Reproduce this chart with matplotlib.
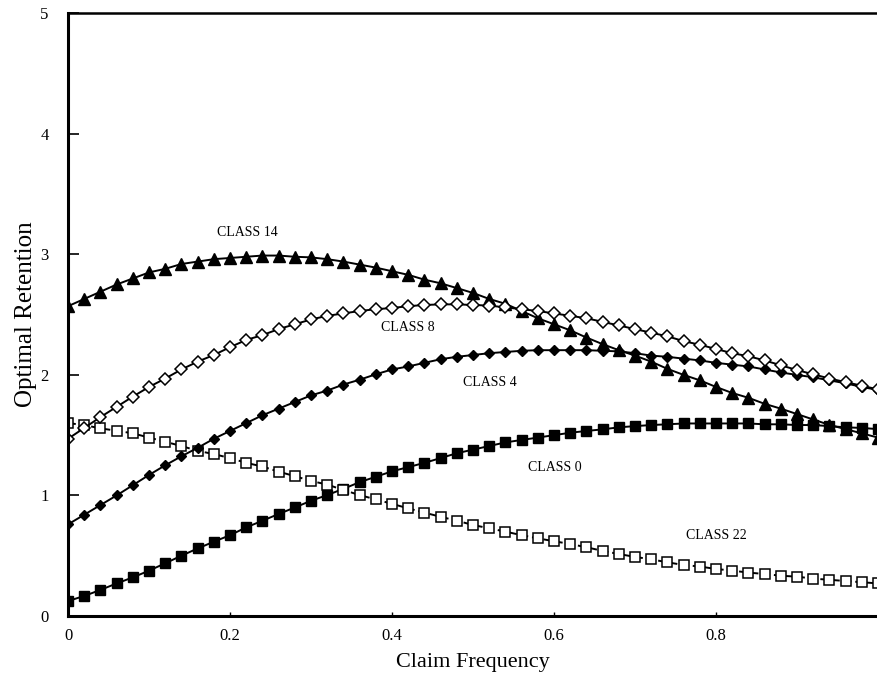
import numpy as np
import matplotlib
matplotlib.use("Agg")
from matplotlib import pyplot as plt

plt.rcParams['font.family'] = ['Liberation Serif', 'DejaVu Serif']

# claim frequency grid, 0 to 1 in steps of 0.02
freq = np.linspace(0.0, 1.0, 51)

class14 = [2.57, 2.63, 2.69, 2.75, 2.80, 2.85, 2.88, 2.92, 2.94, 2.96, 2.97, 2.98, 2.99, 2.99, 2.98, 2.975, 2.96,
           2.94, 2.915, 2.89, 2.86, 2.83, 2.79, 2.76, 2.72, 2.68, 2.63, 2.59, 2.53, 2.47, 2.42, 2.37, 2.31,
           2.255, 2.205, 2.16, 2.11, 2.05, 2.00, 1.955, 1.90, 1.85, 1.81, 1.76, 1.72, 1.675, 1.63, 1.585, 1.55, 1.515, 1.48]

class8 = [1.47, 1.56, 1.65, 1.735, 1.82, 1.90, 1.97, 2.045, 2.11, 2.165, 2.23, 2.29, 2.33, 2.38, 2.42, 2.46, 2.49,
          2.51, 2.53, 2.545, 2.555, 2.57, 2.58, 2.585, 2.585, 2.58, 2.575, 2.56, 2.545, 2.53, 2.51, 2.49, 2.47,
          2.44, 2.41, 2.38, 2.35, 2.32, 2.28, 2.25, 2.215, 2.18, 2.155, 2.12, 2.08, 2.04, 2.005, 1.97, 1.94, 1.91, 1.88]

class4 = [0.76, 0.84, 0.92, 1.00, 1.085, 1.17, 1.25, 1.325, 1.395, 1.47, 1.535, 1.60, 1.665, 1.72, 1.775, 1.83, 1.87,
          1.92, 1.96, 2.005, 2.045, 2.07, 2.10, 2.13, 2.15, 2.165, 2.18, 2.19, 2.20, 2.205, 2.205, 2.205, 2.205,
          2.20, 2.195, 2.18, 2.16, 2.15, 2.135, 2.12, 2.10, 2.085, 2.07, 2.045, 2.02, 2.00, 1.98, 1.955, 1.93, 1.90, 1.875]

class0 = [0.124, 0.166, 0.216, 0.27, 0.32, 0.376, 0.437, 0.50, 0.56, 0.616, 0.67, 0.735, 0.79, 0.846, 0.90, 0.956, 1.003,
          1.055, 1.11, 1.155, 1.20, 1.235, 1.27, 1.31, 1.35, 1.38, 1.41, 1.44, 1.46, 1.48, 1.50, 1.52, 1.535,
          1.548, 1.565, 1.575, 1.584, 1.59, 1.597, 1.597, 1.597, 1.597, 1.597, 1.59, 1.59, 1.584, 1.584, 1.575, 1.565, 1.56, 1.55]

class22 = [1.60, 1.584, 1.556, 1.537, 1.515, 1.48, 1.445, 1.41, 1.37, 1.343, 1.31, 1.27, 1.24, 1.197, 1.16, 1.12, 1.09,
           1.045, 1.003, 0.967, 0.93, 0.893, 0.857, 0.823, 0.79, 0.755, 0.727, 0.70, 0.67, 0.644, 0.62, 0.597, 0.57,
           0.54, 0.514, 0.49, 0.47, 0.445, 0.423, 0.41, 0.39, 0.376, 0.36, 0.348, 0.334, 0.326, 0.31, 0.30, 0.29, 0.28, 0.27]

labels = ["CLASS 14", "CLASS 8", "CLASS 4", "CLASS 0", "CLASS 22"]
label_x = [0.221, 0.42, 0.521, 0.601, 0.801]
label_y = [3.18, 2.39, 1.94, 1.235, 0.67]

fig = plt.figure(figsize=(8.78, 6.88), dpi=100)
ax = fig.add_axes([0.0775, 0.1047, 0.9225, 0.876])

ax.plot(freq, class0, '-', color='k', lw=1.4, marker='s', ms=6.5, mfc='k', mec='k')
ax.plot(freq, class22, color='k', lw=1.4, ls=(0, (4, 2)), marker='s', ms=7, mfc='white', mec='k', mew=1.1)
ax.plot(freq, class4, '-', color='k', lw=1.4, marker='D', ms=5.5, mfc='k', mec='k')
ax.plot(freq, class14, '-', color='k', lw=1.4, marker='^', ms=8, mfc='k', mec='k')
ax.plot(freq, class8, '-', color='k', lw=1.4, marker='D', ms=6, mfc='white', mec='k', mew=1.1)

for txt, lx, ly in zip(labels, label_x, label_y):
    ax.text(lx, ly, txt, fontsize=10, ha='center', va='center')

ax.set_xlim(0, 1.0)
ax.set_ylim(0, 5)
ax.set_xticks([0, 0.2, 0.4, 0.6, 0.8])
ax.set_xticklabels(["0", "0.2", "0.4", "0.6", "0.8"])
ax.set_yticks([0, 1, 2, 3, 4, 5])
ax.set_yticklabels(["0", "1", "2", "3", "4", "5"])
ax.tick_params(axis='y', direction='in', length=8, width=1.2, pad=14, labelsize=12)
ax.tick_params(axis='x', direction='in', length=3, width=1.0, pad=9, labelsize=12)

ax.spines['right'].set_visible(False)
ax.spines['left'].set_linewidth(2.2)
ax.spines['bottom'].set_linewidth(2.2)
ax.spines['top'].set_linewidth(1.8)

ax.set_xlabel("Claim Frequency", fontsize=16, labelpad=6)
ax.set_ylabel("Optimal Retention", fontsize=18, labelpad=2)

fig.savefig("out.png", dpi=100)
